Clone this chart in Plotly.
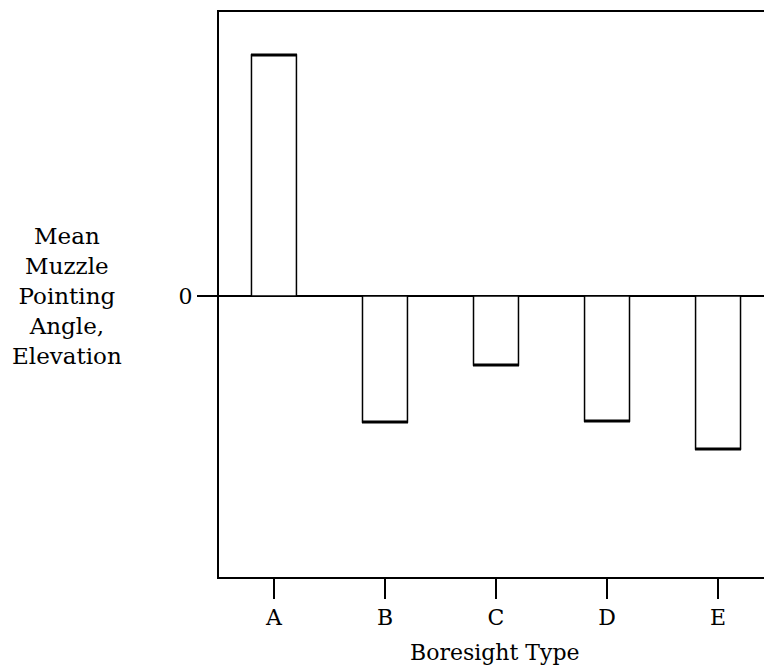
import plotly.graph_objects as go

# Mean muzzle pointing angle (elevation) by boresight type, arbitrary units
boresight_types = ["A", "B", "C", "D", "E"]
mean_elevation = [2.41, -1.26, -0.69, -1.25, -1.53]

y_tick_values = [0]
y_tick_labels = ["0"]

serif = "DejaVu Serif, Liberation Serif, serif"

fig = go.Figure(
    go.Bar(
        x=boresight_types,
        y=mean_elevation,
        marker=dict(color="white", line=dict(color="black", width=1.5)),
        width=0.405,
        # zero-length error bars give each bar end a heavier cap stroke
        error_y=dict(type="data", array=[0] * len(mean_elevation),
                     color="black", thickness=3, width=23),
        hoverinfo="x+y",
    )
)

fig.update_layout(
    width=764,
    height=668,
    margin=dict(l=219, r=0, t=12, b=91),
    paper_bgcolor="white",
    plot_bgcolor="white",
    showlegend=False,
    font=dict(family=serif, color="black", size=22),
    xaxis=dict(
        range=[-0.495, 4.414],
        showline=True,
        linecolor="black",
        linewidth=2,
        mirror=True,
        ticks="outside",
        ticklen=20,
        tickwidth=1.5,
        tickcolor="black",
        showgrid=False,
        tickfont=dict(family=serif, size=22),
    ),
    yaxis=dict(
        range=[-2.81, 2.84],
        showline=True,
        linecolor="black",
        linewidth=2,
        mirror=False,
        ticks="outside",
        ticklen=20,
        tickwidth=2,
        tickcolor="black",
        tickvals=y_tick_values,
        ticktext=y_tick_labels,
        showgrid=False,
        zeroline=True,
        zerolinecolor="black",
        zerolinewidth=2,
        tickfont=dict(family=serif, size=22),
    ),
    annotations=[
        dict(
            text="Mean<br>Muzzle<br>Pointing<br>Angle,<br>Elevation",
            xref="paper",
            yref="y",
            x=(67 - 219) / 545,
            y=0,
            xanchor="center",
            yanchor="middle",
            showarrow=False,
            align="center",
            font=dict(family=serif, size=23),
        ),
        dict(
            text="Boresight Type",
            xref="paper",
            yref="paper",
            x=(495 - 219) / 545,
            y=-(652 - 577) / 565,
            xanchor="center",
            yanchor="middle",
            showarrow=False,
            font=dict(family=serif, size=22),
        ),
    ],
)

fig.write_html("out.html")
